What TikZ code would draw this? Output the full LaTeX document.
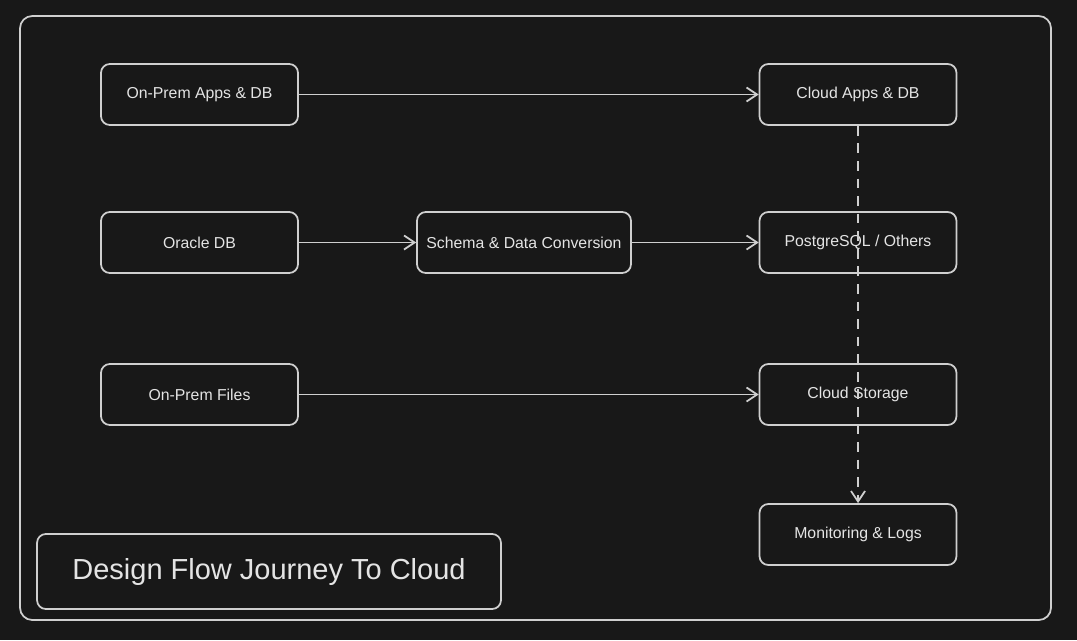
\documentclass[tikz,border=0pt]{standalone}
\usepackage{fontspec}
\setmainfont{Liberation Sans}
\usetikzlibrary{arrows.meta}
\definecolor{bgdark}{HTML}{181818}
\definecolor{linegray}{HTML}{CFCFCF}
\definecolor{textgray}{HTML}{E4E4E4}

\begin{document}
\begin{tikzpicture}[x=0.02cm, y=-0.02cm,
		stagebox/.style={draw=linegray, line width=1pt, rectangle, rounded corners=5pt, fill=bgdark, text=textgray, font=\fontsize{9}{11}\selectfont, minimum width=3.94cm, minimum height=1.22cm, inner sep=0pt},
		flow/.style={draw=linegray, line width=1pt, -{Straight Barb[length=6pt, width=8pt]}}]
				\fill[bgdark] (0, 0) rectangle (1077, 640);
				\draw[linegray, line width=1pt, rounded corners=7pt] (20, 16) rectangle (1051, 620);
				\node[stagebox] (onprem)at(199.5, 94.5) {On-Prem Apps \& DB};
				\node[stagebox] (oracle)at(199.5, 242.5) {Oracle DB};
				\node[stagebox] (files)at(199.5, 394.5) {On-Prem Files};
				\node[stagebox, minimum width=4.28cm] (convert)at(524, 242.5) {Schema \& Data Conversion};
				\node[stagebox] (cloudapps)at(858, 94.5) {Cloud Apps \& DB};
				\node[stagebox] (postgres)at(858, 242.5) {PostgreSQL / Others};
				\node[stagebox] (storage)at(858, 394.5) {Cloud Storage};
				\node[stagebox] (monitor)at(858, 534.5) {Monitoring \& Logs};
				\node[stagebox, minimum width=9.28cm, minimum height=1.5cm, font=\fontsize{16.5}{19}\selectfont] (title)at(269, 571.5) {Design Flow Journey To Cloud};
				\draw[flow] (onprem) -- (cloudapps);
				\draw[flow] (oracle) -- (convert);
				\draw[flow] (convert) -- (postgres);
				\draw[flow] (files) -- (storage);
				\draw[flow, dash pattern=on 5.5pt off 4.5pt] (cloudapps) -- (monitor);
			\end{tikzpicture}
\end{document}
